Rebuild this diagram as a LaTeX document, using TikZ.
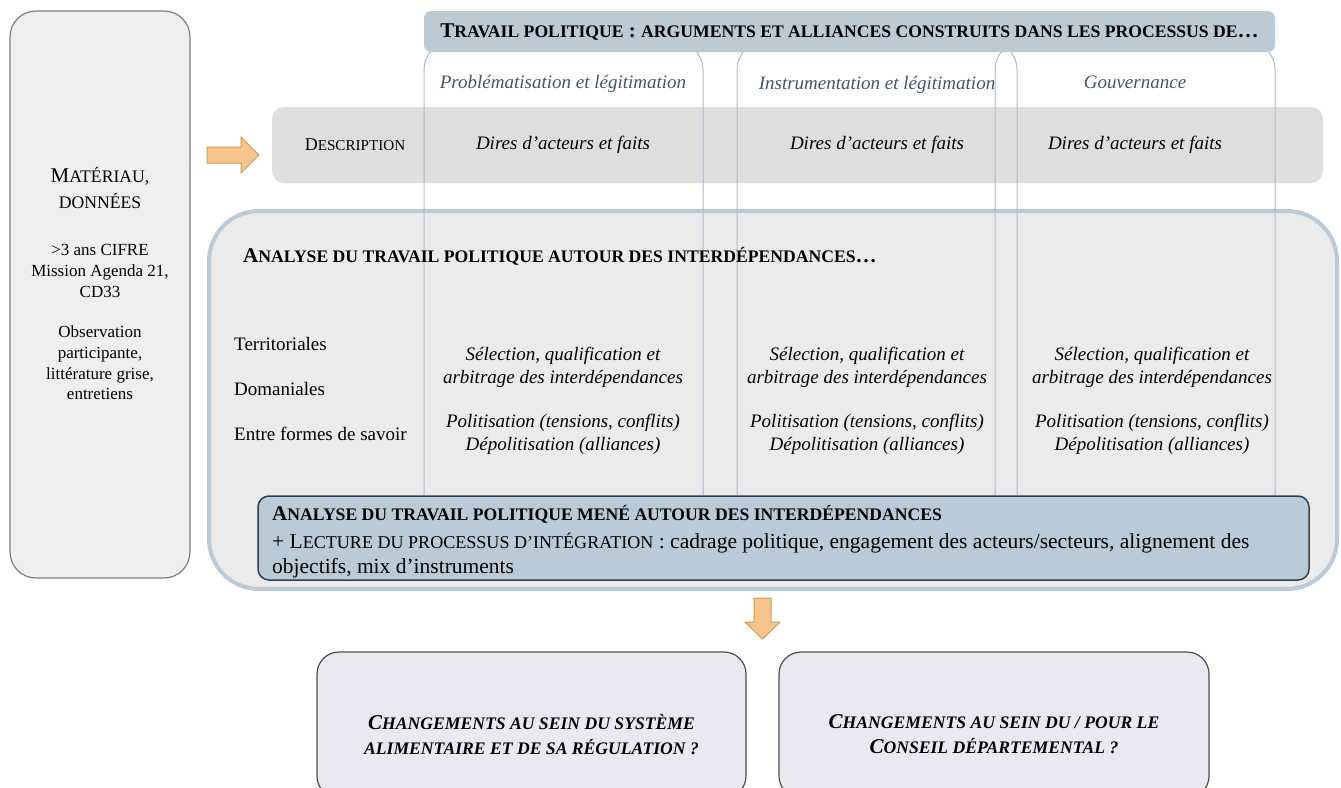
\documentclass[tikz,border=0pt]{standalone}
\usepackage{fontspec}
\setmainfont{Liberation Serif}
\makeatletter
\newcommand\lc[1]{{\fontsize{\fpeval{round(0.84*\f@size,2)}}{\f@baselineskip}\selectfont #1}}
\makeatother
\definecolor{titlefill}{HTML}{BCCAD6}
\definecolor{colline}{HTML}{A9BACD}
\definecolor{headtxt}{HTML}{44546A}
\definecolor{descfill}{HTML}{DEDEDE}
\definecolor{leftfill}{HTML}{EFEFEF}
\definecolor{leftdraw}{HTML}{7F7F7F}
\definecolor{anafill}{HTML}{EBEBEB}
\definecolor{anadraw}{HTML}{BACADA}
\definecolor{innerfill}{HTML}{B9CAD8}
\definecolor{innerdraw}{HTML}{2E4053}
\definecolor{qfill}{HTML}{EBE8F3}
\definecolor{qdraw}{HTML}{4F4F3F}
\definecolor{arrfill}{HTML}{F6C48C}
\definecolor{arrdraw}{HTML}{C9A04E}
\tikzset{
  box/.style={rectangle, inner sep=0pt},
  txt/.style={inner sep=0pt, text=black, font=\fontsize{19}{22}\selectfont},
  itxt/.style={txt, font=\fontsize{19}{23}\selectfont\itshape, align=center},
  headt/.style={inner sep=0pt, text=headtxt, font=\fontsize{19}{22}\selectfont\itshape},
  colpath/.style={draw=colline, line width=1pt, rounded corners=30pt},
  blockarrow/.style={draw=arrdraw, fill=arrfill, line width=1pt, line join=miter},
  sctitle/.style={txt, font=\fontsize{21}{25}\selectfont\bfseries},
}
\begin{document}
\begin{tikzpicture}[x=1pt,y=-1pt]
\useasboundingbox (0,0) rectangle (1341,787);
% left box
\node[box, draw=leftdraw, fill=leftfill, line width=1.2pt, rounded corners=26pt, minimum width=180pt, minimum height=567pt] (mat) at (100,294.5) {};
% description band
\node[box, fill=descfill, rounded corners=12pt, minimum width=1051pt, minimum height=76pt] (desc) at (797.5,145) {};
% analysis box
\node[box, draw=anadraw, fill=anafill, line width=4pt, rounded corners=50pt, minimum width=1128pt, minimum height=378pt] (ana) at (773,400) {};
% columns
\coordinate (c1a) at (424,495); \coordinate (c1b) at (424,40); \coordinate (c1c) at (703,40); \coordinate (c1d) at (703,495);
\coordinate (c2a) at (737,495); \coordinate (c2b) at (737,40); \coordinate (c2c) at (1017,40); \coordinate (c2d) at (1017,495);
\coordinate (c3a) at (995,495); \coordinate (c3b) at (995,40); \coordinate (c3c) at (1275,40); \coordinate (c3d) at (1275,495);
\path[colpath] (c1a) -- (c1b) -- (c1c) -- (c1d);
\path[colpath] (c2a) -- (c2b) -- (c2c) -- (c2d);
\path[colpath] (c3a) -- (c3b) -- (c3c) -- (c3d);
% title bar
\node[box, fill=titlefill, rounded corners=7pt, minimum width=851pt, minimum height=41pt] (title) at (849.5,31.5) {};
\node[sctitle] (titlet) at (849.5,32) {T\lc{RAVAIL POLITIQUE} : \lc{ARGUMENTS ET ALLIANCES CONSTRUITS DANS LES PROCESSUS DE}…};
% column headers
\node[headt] (h1) at (563,84) {Problématisation et légitimation};
\node[headt] (h2) at (877,85) {Instrumentation et légitimation};
\node[headt] (h3) at (1135,82) {Gouvernance};
% description row
\node[txt, font=\fontsize{18}{21}\selectfont] (desct) at (355,145) {D\lc{ESCRIPTION}};
\node[itxt] (d1) at (563,145) {Dires d’acteurs et faits};
\node[itxt] (d2) at (877,145) {Dires d’acteurs et faits};
\node[itxt] (d3) at (1135,145) {Dires d’acteurs et faits};
% left box text
\node[txt, font=\fontsize{21}{26}\selectfont, align=center] (matt) at (100,188) {M\lc{ATÉRIAU,}\\\lc{DONNÉES}};
\node[txt, font=\fontsize{17}{21}\selectfont, align=center] (mat2) at (100,271) {>3 ans CIFRE\\Mission Agenda 21,\\CD33};
\node[txt, font=\fontsize{17}{20.7}\selectfont, align=center] (mat3) at (100,363) {Observation\\participante,\\littérature grise,\\entretiens};
% arrows
\path[blockarrow] (207,147) coordinate (arr1) -- (241,147) -- (241,137) -- (259,155) -- (241,173) -- (241,163) -- (207,163) -- cycle;
\path[blockarrow] (754,598) coordinate (arr2) -- (771,598) -- (771,622) -- (780,622) -- (762.5,639) -- (745,622) -- (754,622) -- cycle;
% analysis content
\node[sctitle, anchor=west] (anat) at (243,256) {A\lc{NALYSE DU TRAVAIL POLITIQUE AUTOUR DES INTERDÉPENDANCES}…};
\node[txt, anchor=west] (l1) at (234,344) {Territoriales};
\node[txt, anchor=west] (l2) at (234,389) {Domaniales};
\node[txt, anchor=west] (l3) at (234,434) {Entre formes de savoir};
\node[itxt] (s1) at (563,367.5) {Sélection, qualification et\\arbitrage des interdépendances};
\node[itxt] (s2) at (867,367.5) {Sélection, qualification et\\arbitrage des interdépendances};
\node[itxt] (s3) at (1152,367.5) {Sélection, qualification et\\arbitrage des interdépendances};
\node[itxt] (p1) at (563,434.5) {Politisation (tensions, conflits)\\Dépolitisation (alliances)};
\node[itxt] (p2) at (867,434.5) {Politisation (tensions, conflits)\\Dépolitisation (alliances)};
\node[itxt] (p3) at (1152,434.5) {Politisation (tensions, conflits)\\Dépolitisation (alliances)};
% inner box
\node[box, draw=innerdraw, fill=innerfill, line width=1.5pt, rounded corners=11pt, minimum width=1051pt, minimum height=84pt] (inner) at (783.5,538) {};
\node[sctitle, anchor=west] (innert1) at (272,514) {A\lc{NALYSE DU TRAVAIL POLITIQUE MENÉ AUTOUR DES INTERDÉPENDANCES}};
\node[txt, anchor=north west, align=left, font=\fontsize{21.5}{25.5}\selectfont] (innert2) at (272,532.5) {+ L\lc{ECTURE DU PROCESSUS D’INTÉGRATION} : cadrage politique, engagement des acteurs/secteurs, alignement des\\objectifs, mix d’instruments};
% question boxes
\node[box, draw=qdraw, fill=qfill, line width=1.2pt, rounded corners=22pt, minimum width=429pt, minimum height=146pt] (q1) at (531.5,725) {};
\node[box, draw=qdraw, fill=qfill, line width=1.2pt, rounded corners=22pt, minimum width=430pt, minimum height=146pt] (q2) at (994,725) {};
\node[sctitle, align=center, font=\fontsize{21}{25}\selectfont\bfseries\itshape] (q1t) at (531.5,734.5) {C\lc{HANGEMENTS AU SEIN DU SYSTÈME}\\\lc{ALIMENTAIRE ET DE SA RÉGULATION ?}};
\node[sctitle, align=center, font=\fontsize{21}{25}\selectfont\bfseries\itshape] (q2t) at (994,734.5) {C\lc{HANGEMENTS AU SEIN DU / POUR LE}\\C\lc{ONSEIL DÉPARTEMENTAL ?}};
\end{tikzpicture}
\end{document}
